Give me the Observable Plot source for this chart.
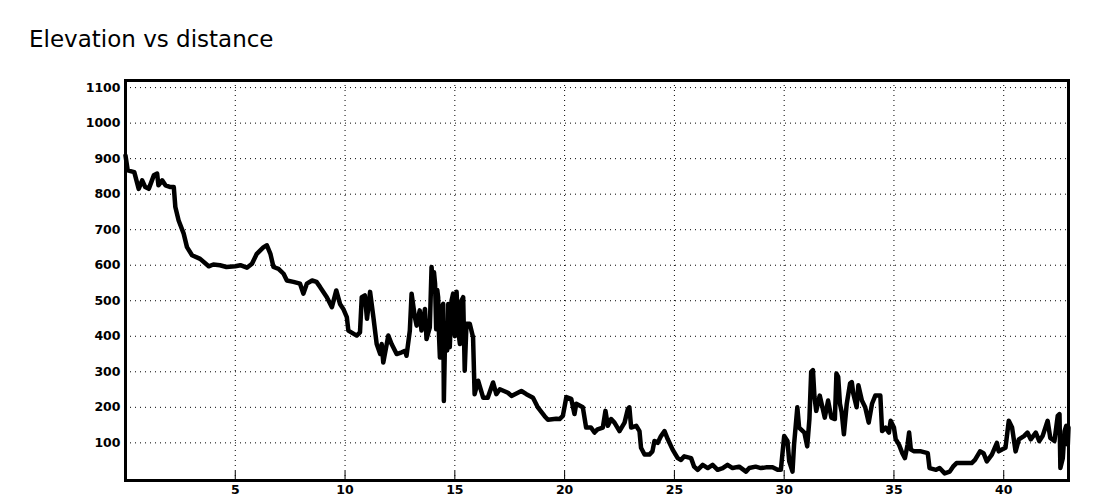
<!DOCTYPE html>
<html><head><meta charset="utf-8">
<script src="https://cdn.jsdelivr.net/npm/d3@7"></script>
<script src="https://cdn.jsdelivr.net/npm/@observablehq/plot@0.6"></script>
<style>
body{margin:0;background:#fff;}
#title{height:62px;box-sizing:border-box;padding:28px 0 0 29px;font:23px/23px "DejaVu Sans",sans-serif;color:#000;}
</style></head><body>
<div id="title">Elevation vs distance</div>
<div id="chart"></div>
<script>
const distanceKm = [
  0.0, 0.1, 0.4, 0.6, 0.76, 0.9, 1.06, 1.29, 1.44, 1.5, 1.67, 1.82, 2.05, 2.2, 2.27, 2.42, 2.65, 2.8, 3.03, 3.4,
  3.79, 4.0, 4.3, 4.6, 5.0, 5.23, 5.53, 5.76, 5.98, 6.14, 6.29, 6.44, 6.6, 6.74, 6.97, 7.2, 7.35, 7.65, 7.95, 8.1,
  8.26, 8.5, 8.7, 8.86, 9.17, 9.4, 9.6, 9.77, 9.92,
  10.08, 10.15, 10.53, 10.68, 10.76, 10.9, 11.0, 11.14, 11.29, 11.44, 11.6, 11.67, 11.74, 11.97, 12.12, 12.35,
  12.58, 12.73, 12.8, 12.95, 13.03, 13.18, 13.26, 13.4, 13.48, 13.64, 13.71,
  13.86, 13.94, 14.0, 14.05, 14.1, 14.15, 14.2, 14.24, 14.28, 14.32, 14.4, 14.47, 14.5, 14.55, 14.6, 14.65, 14.7, 14.77, 14.85, 14.92, 15.0, 15.08, 15.15, 15.23, 15.3, 15.38, 15.45,
  15.53, 15.68, 15.83, 15.9, 16.06, 16.29,
  16.5, 16.74, 16.89, 17.05, 17.42, 17.58, 18.03, 18.26, 18.56, 18.79, 19.09, 19.24, 19.62,
  19.77, 19.92, 20.08, 20.3, 20.45, 20.53, 20.83, 20.98, 21.2, 21.36, 21.5, 21.74, 21.86, 21.97, 22.12, 22.27,
  22.5, 22.73, 22.88, 22.95, 23.03, 23.26, 23.41, 23.48, 23.64, 23.86, 24.0, 24.09, 24.24, 24.39, 24.55, 24.7,
  24.92, 25.15, 25.3, 25.45, 25.76, 25.9, 26.06, 26.29, 26.52, 26.74, 26.97, 27.2, 27.42, 27.65, 27.95, 28.26,
  28.41, 28.7, 28.94, 29.17, 29.47, 29.7, 29.85, 30.0, 30.15, 30.23, 30.38, 30.45,
  30.6, 30.68, 30.92, 31.05, 31.15, 31.23, 31.31, 31.38, 31.46, 31.62, 31.69, 31.85, 32.0, 32.15, 32.31, 32.38,
  32.46, 32.54, 32.62, 32.72, 32.85, 33.0, 33.08, 33.15, 33.3, 33.38, 33.54, 33.69, 33.85, 34.0, 34.15, 34.38,
  34.46, 34.62, 34.77, 34.85, 35.0, 35.08, 35.23, 35.38, 35.5, 35.62, 35.69, 35.77, 35.92, 36.23, 36.54, 36.62,
  36.92, 37.08, 37.31, 37.54, 37.69, 37.85, 38.15, 38.54, 38.69, 38.92, 39.08, 39.23, 39.46, 39.69, 39.77, 39.92,
  40.08, 40.23, 40.38, 40.54, 40.69, 40.92, 41.08, 41.23, 41.46, 41.62, 41.77, 42.0, 42.12, 42.31, 42.46, 42.54,
  42.58, 42.69, 42.77, 42.85, 42.92, 42.95
];
const elevationM = [
  909, 867, 862, 815, 839, 820, 815, 853, 858, 825, 839, 825, 820, 820, 764, 726, 689, 651, 628, 618,
  597, 602, 600, 595, 597, 600, 593, 604, 632, 642, 651, 656, 632, 595, 590, 576, 557, 553, 548, 520,
  548, 557, 553, 539, 510, 482, 529, 491, 477,
  454, 416, 402, 411, 510, 515, 449, 525, 454, 378, 350, 378, 326, 402, 378, 350,
  355, 359, 345, 416, 520, 454, 430, 473, 416, 477, 392,
  425, 595, 540, 580, 548, 420, 530, 510, 400, 340, 480, 491, 218, 380, 435, 360, 491, 369, 500, 520, 400, 525, 420, 378, 500, 510, 303,
  435, 435, 397, 237, 275, 227,
  227, 270, 237, 251, 241, 232, 246, 237, 227, 199, 175, 165, 168,
  167, 176, 229, 224, 181, 210, 200, 143, 143, 129, 138, 143, 190, 148, 167, 157,
  133, 157, 195, 200, 143, 148, 133, 86, 67, 67, 76, 105, 100, 119, 133, 110,
  81, 57, 52, 62, 57, 33, 24, 38, 29, 38, 24, 29, 38, 29, 33, 19,
  29, 33, 29, 31, 31, 24, 24, 119, 105, 48, 19, 95,
  200, 143, 129, 90, 167, 300, 305, 229, 190, 233, 214, 171, 219, 171, 167, 295,
  286, 210, 186, 124, 210, 267, 271, 238, 200, 262, 219, 200, 157, 210, 233, 233,
  133, 143, 129, 162, 143, 110, 95, 71, 57, 95, 129, 81, 76, 76, 71, 29,
  24, 29, 14, 19, 33, 43, 43, 43, 52, 76, 71, 48, 67, 100, 76, 81,
  86, 162, 143, 76, 110, 119, 129, 110, 129, 105, 119, 162, 114, 105, 176, 181,
  29, 57, 133, 148, 95, 143
];
const xTicks = [5, 10, 15, 20, 25, 30, 35, 40];
const yTicks = [100, 200, 300, 400, 500, 600, 700, 800, 900, 1000, 1100];

const data = distanceKm.map((d, i) => ({distance: d, elevation: elevationM[i]}));

const chart = Plot.plot({
  width: 1100,
  height: 438,
  marginTop: 18,
  marginBottom: 20,
  marginLeft: 125,
  marginRight: 32,
  style: {fontFamily: "'DejaVu Sans', sans-serif", fontSize: "12.5px", fontWeight: "bold", background: "#fff", color: "#000"},
  x: {domain: [0, 42.95]},
  y: {domain: [-6, 1120]},
  marks: [
    Plot.gridX(xTicks, {stroke: "#000", strokeOpacity: 1, strokeWidth: 1, strokeDasharray: "1,4"}),
    Plot.gridY(yTicks, {stroke: "#000", strokeOpacity: 1, strokeWidth: 1, strokeDasharray: "1,4"}),
    Plot.axisX(xTicks, {tickSize: 9, dy: -9, tickPadding: 5, label: null, strokeWidth: 1, tickFormat: d => String(d)}),
    Plot.axisY(yTicks, {tickSize: 0, tickPadding: 5, label: null, tickFormat: d => String(d)}),
    Plot.line(data, {x: "distance", y: "elevation", stroke: "#000", strokeWidth: 4.5, strokeLinejoin: "round"}),
    Plot.frame({stroke: "#000", strokeWidth: 3})
  ]
});
document.getElementById("chart").appendChild(chart);
</script>
</body></html>
